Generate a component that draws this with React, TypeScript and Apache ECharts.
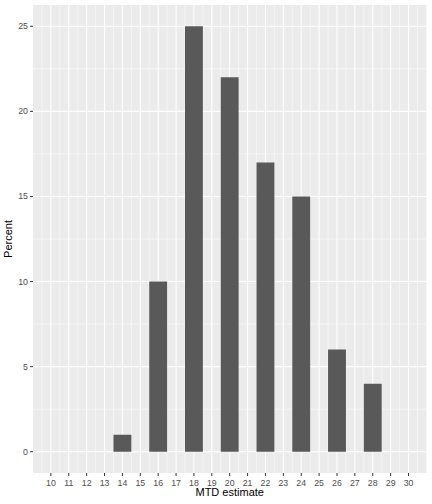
import React, { useEffect, useRef } from "react";
import * as echarts from "echarts";

const estimates = [14, 16, 18, 20, 22, 24, 26, 28];
const percents = [1, 10, 25, 22, 17, 15, 6, 4];
const xTicks = [10, 11, 12, 13, 14, 15, 16, 17, 18, 19, 20, 21, 22, 23, 24, 25, 26, 27, 28, 29, 30];
const xMinor = [9.5, 10.5, 11.5, 12.5, 13.5, 14.5, 15.5, 16.5, 17.5, 18.5, 19.5, 20.5, 21.5, 22.5, 23.5, 24.5, 25.5, 26.5, 27.5, 28.5, 29.5, 30.5];
const yTicks = [0, 5, 10, 15, 20, 25];
const yMinor = [2.5, 7.5, 12.5, 17.5, 22.5];
const xTitle = "MTD estimate";
const yTitle = "Percent";

const X_MIN = 9;
const X_MAX = 31;
const Y_MIN = -1.25;
const Y_MAX = 26.25;

export default function App() {
  const ref = useRef<HTMLDivElement>(null);
  useEffect(() => {
    document.body.style.margin = "0";
    const chart = echarts.init(ref.current!, null, { renderer: "svg" });
    const gridLeft = 33;
    const gridRight = 5.6;
    const gridTop = 5;
    const gridBottom = 31;
    const gridWidth = 432 - gridLeft - gridRight;
    const unitPx = gridWidth / (X_MAX - X_MIN);
    const font = "Liberation Sans, Arial, sans-serif";

    // [value, orientation (0 = vertical, 1 = horizontal), kind (0 minor, 1 major, 2 tick)]
    const gridLineData = [
      ...xTicks.map((v) => [v, 0, 1]),
      ...xMinor.map((v) => [v, 0, 0]),
      ...yTicks.map((v) => [v, 1, 1]),
      ...yMinor.map((v) => [v, 1, 0]),
      ...xTicks.map((v) => [v, 0, 2]),
      ...yTicks.map((v) => [v, 1, 2]),
    ];

    chart.setOption({
      animation: false,
      backgroundColor: "#FFFFFF",
      grid: {
        left: gridLeft,
        right: gridRight,
        top: gridTop,
        bottom: gridBottom,
        show: true,
        backgroundColor: "#EBEBEB",
        borderWidth: 0,
        containLabel: false,
        outerBoundsMode: "none",
      },
      graphic: [
        {
          type: "text",
          x: gridLeft + gridWidth / 2,
          y: 492,
          style: { text: xTitle, fill: "#000000", font: `11px ${font}`, align: "center", verticalAlign: "middle" },
        },
        {
          type: "text",
          x: 7.5,
          y: gridTop + (504 - gridTop - gridBottom) / 2,
          rotation: Math.PI / 2,
          style: { text: yTitle, fill: "#000000", font: `11px ${font}`, align: "center", verticalAlign: "middle" },
        },
      ],
      xAxis: {
        type: "value",
        min: X_MIN,
        max: X_MAX,
        axisLine: { show: false },
        axisTick: { show: false },
        axisLabel: {
          customValues: xTicks,
          color: "#4D4D4D",
          fontSize: 8.8,
          margin: 5,
          fontFamily: font,
        },
        splitLine: { show: false },
        minorSplitLine: { show: false },
      },
      yAxis: {
        type: "value",
        min: Y_MIN,
        max: Y_MAX,
        axisLine: { show: false },
        axisTick: { show: false },
        axisLabel: {
          customValues: yTicks,
          color: "#4D4D4D",
          fontSize: 8.8,
          margin: 5,
          fontFamily: font,
        },
        splitLine: { show: false },
      },
      series: [
        {
          type: "custom",
          z: 1,
          silent: true,
          clip: false,
          data: gridLineData,
          renderItem: (params: any, api: any) => {
            const v = api.value(0);
            const isY = api.value(1) === 1;
            const kind = api.value(2);
            const cs = params.coordSys;
            if (kind === 2) {
              if (!isY) {
                const p = api.coord([v, 0]);
                const yb = cs.y + cs.height;
                return {
                  type: "line",
                  shape: { x1: p[0], y1: yb, x2: p[0], y2: yb + 3 },
                  style: { stroke: "#333333", lineWidth: 1 },
                };
              }
              const p = api.coord([X_MIN, v]);
              return {
                type: "line",
                shape: { x1: cs.x - 3, y1: p[1], x2: cs.x, y2: p[1] },
                style: { stroke: "#333333", lineWidth: 1 },
              };
            }
            const w = kind === 1 ? 1.07 : 0.53;
            if (!isY) {
              const p = api.coord([v, 0]);
              return {
                type: "line",
                shape: { x1: p[0], y1: cs.y, x2: p[0], y2: cs.y + cs.height },
                style: { stroke: "#FFFFFF", lineWidth: w },
              };
            }
            const p = api.coord([X_MIN, v]);
            return {
              type: "line",
              shape: { x1: cs.x, y1: p[1], x2: cs.x + cs.width, y2: p[1] },
              style: { stroke: "#FFFFFF", lineWidth: w },
            };
          },
        },
        {
          type: "bar",
          z: 2,
          barWidth: unitPx,
          itemStyle: { color: "#595959" },
          data: estimates.map((e, i) => [e, percents[i]]),
        },
      ],
    });
    return () => chart.dispose();
  }, []);
  return <div ref={ref} style={{ width: 432, height: 504 }} />;
}
